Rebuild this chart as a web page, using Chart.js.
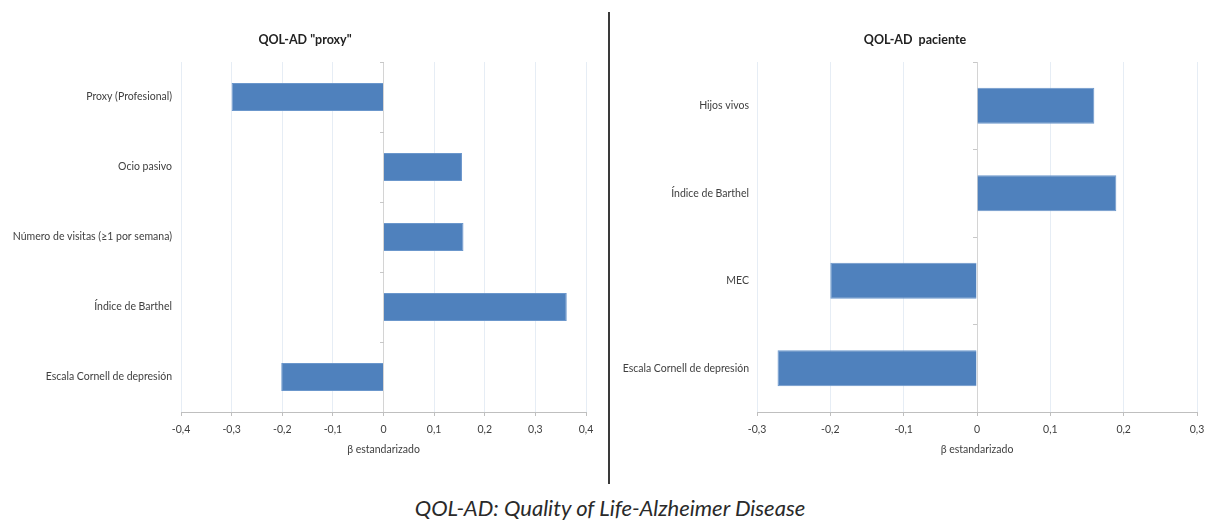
<!DOCTYPE html>
<html>
<head>
<meta charset="utf-8">
<script src="https://cdn.jsdelivr.net/npm/chart.js@4/dist/chart.umd.min.js"></script>
<style>
  html, body { margin: 0; padding: 0; background: #fff; }
  body { width: 1205px; height: 520px; position: relative; overflow: hidden; }
  #left { position: absolute; left: 0; top: 0; }
  #right { position: absolute; left: 612px; top: 0; }
  #divider { position: absolute; left: 608px; top: 12px; width: 2px; height: 472px; background: #3a3a3a; }
  .ctitle { position: absolute; top: 32px; width: 400px; text-align: center; white-space: pre;
            font-family: Lato, "Open Sans", sans-serif; font-weight: bold; font-size: 12.5px; color: #222; line-height: 16px; }
  #caption { position: absolute; left: 0; width: 1220px; top: 494px; text-align: center;
             font-family: Lato, "Open Sans", sans-serif; font-style: italic; font-size: 22px; color: #2a2a2a; line-height: 28px; }
</style>
</head>
<body>
<canvas id="left" width="600" height="470"></canvas>
<canvas id="right" width="593" height="470"></canvas>
<div id="tleft" class="ctitle" style="left:105px"></div>
<div id="tright" class="ctitle" style="left:715px"></div>
<div id="divider"></div>
<div id="caption">QOL-AD: Quality of Life-Alzheimer Disease</div>
<script>
const proxyTitle = 'QOL-AD "proxy"';
const proxyLabels = ['Proxy (Profesional)', 'Ocio pasivo', 'Número de visitas (≥1 por semana)', 'Índice de Barthel', 'Escala Cornell de depresión'];
const proxyValues = [-0.30, 0.155, 0.158, 0.362, -0.202];
const proxyTicks = { min: -0.4, max: 0.4, step: 0.1 };

const pacienteTitle = 'QOL-AD  paciente';
const pacienteLabels = ['Hijos vivos', 'Índice de Barthel', 'MEC', 'Escala Cornell de depresión'];
const pacienteValues = [0.16, 0.19, -0.20, -0.272];
const pacienteTicks = { min: -0.3, max: 0.3, step: 0.1 };

const axisTitle = 'β estandarizado';

document.getElementById('tleft').textContent = proxyTitle;
document.getElementById('tright').textContent = pacienteTitle;

Chart.defaults.font.family = 'Lato, "Open Sans", sans-serif';
Chart.defaults.font.size = 10.5;
Chart.defaults.color = '#404040';
Chart.defaults.animation = false;

function fmt(v) {
  if (Math.abs(v) < 1e-9) return '0';
  return v.toFixed(1).replace('.', ',');
}

function makeChart(id, labels, values, tk, yWidth, padRight, labelPad, barPct) {
  return new Chart(document.getElementById(id), {
    type: 'bar',
    data: {
      labels: labels,
      datasets: [{
        data: values,
        backgroundColor: '#4f81bd',
        borderColor: '#6b97cc',
        borderWidth: 1,
        categoryPercentage: 1,
        barPercentage: barPct,
        yAxisID: 'y'
      }]
    },
    options: {
      indexAxis: 'y',
      responsive: false,
      layout: { padding: { left: 0, right: padRight, top: 62, bottom: 0 } },
      plugins: {
        legend: { display: false },
        tooltip: { enabled: false },
        title: { display: false }
      },
      scales: {
        x: {
          type: 'linear',
          min: tk.min,
          max: tk.max,
          ticks: {
            stepSize: tk.step,
            padding: 7,
            color: '#404040',
            font: { size: 10.5 },
            callback: (v) => fmt(v)
          },
          grid: {
            color: (ctx) => (ctx.tick && Math.abs(ctx.tick.value) < 1e-9) ? '#d4d4d4' : '#e6edf5',
            lineWidth: 1,
            drawTicks: true,
            tickLength: 4,
            tickColor: '#bfbfbf'
          },
          border: { display: true, color: '#bfbfbf', width: 1 },
          title: {
            display: true,
            text: axisTitle,
            color: '#404040',
            font: { size: 10.5 },
            padding: { top: 0, bottom: 14 }
          },
          afterFit: (s) => { s.height = 58; s.paddingLeft = 0; s.paddingRight = 0; }
        },
        y: {
          type: 'category',
          position: 'left',
          grid: { display: false },
          border: { display: false },
          ticks: { padding: labelPad, color: '#404040', font: { size: 10.5 } },
          afterFit: (s) => { s.width = yWidth; s.paddingTop = 0; s.paddingBottom = 0; }
        },
        y0: {
          type: 'category',
          position: { x: 0 },
          offset: true,
          grid: { display: true, drawOnChartArea: false, drawTicks: true, tickLength: 4, tickColor: '#c8c8c8', offset: true },
          border: { display: false },
          ticks: { display: false },
          afterFit: (s) => { s.width = 0; }
        }
      }
    }
  });
}

makeChart('left', proxyLabels, proxyValues, proxyTicks, 181, 14, 1, 0.4);
makeChart('right', pacienteLabels, pacienteValues, pacienteTicks, 145, 8, 0, 0.41);
</script>
</body>
</html>
